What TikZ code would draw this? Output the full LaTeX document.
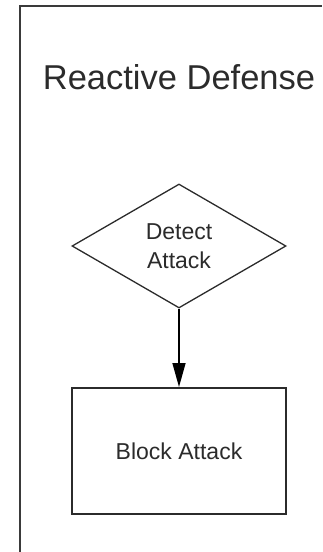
\documentclass[tikz,border=0pt]{standalone}
\usepackage{fontspec}
\setmainfont{Liberation Sans}
\usetikzlibrary{shapes.geometric,arrows.meta}
\definecolor{inkgray}{HTML}{2B2B2B}
\definecolor{framegray}{HTML}{3A3A3A}
\tikzset{
  x=1pt, y=1pt,
  decision/.style={diamond, draw=inkgray, line width=1.3pt, aspect=1.726,
    minimum width=214pt, minimum height=124pt, inner sep=0pt,
    align=center, text=inkgray, font=\fontsize{23}{28.4}\selectfont},
  process/.style={rectangle, draw=inkgray, line width=2pt,
    minimum width=214pt, minimum height=126pt, inner sep=0pt,
    align=center, text=inkgray, font=\fontsize{23}{28.4}\selectfont},
  flow/.style={draw=black, line width=1.5pt, -{Triangle[length=24pt,width=13pt]}},
  heading/.style={text=inkgray, font=\fontsize{34.5}{40}\selectfont, inner sep=0pt, anchor=base}
}
\begin{document}
\begin{tikzpicture}
  \useasboundingbox (0,0) rectangle (322,-552);
  % swimlane frame, open to the right and bottom
  \draw[framegray, line width=2pt] (19.5,-552) -- (19.5,-6) -- (322,-6);
  \node[heading] (title) at (179,-89.3) {Reactive Defense};
  \node[decision] (detect) at (179,-246) {Detect\\Attack};
  \node[process] (block) at (179,-451) {Block Attack};
  \draw[flow] (detect.south) -- (block.north);
\end{tikzpicture}
\end{document}
